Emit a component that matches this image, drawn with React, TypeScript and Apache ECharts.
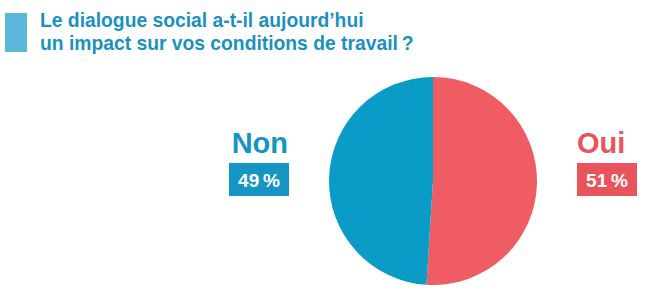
import React, { useEffect, useRef } from "react";
import * as echarts from "echarts";

const categories = ["Oui", "Non"];
const values = [51, 49];
const colors = ["#f05c63", "#0b9bc7"];
const labelColors = ["#e9545c", "#1595c3"];
const titleLines = ["Le dialogue social a-t-il aujourd’hui", "un impact sur vos conditions de travail\u2009?"];

const FONT = "'Liberation Sans', Arial, Helvetica, sans-serif";

export default function App() {
  const ref = useRef<HTMLDivElement>(null);
  useEffect(() => {
    if (!ref.current) return;
    const chart = echarts.init(ref.current, null, { renderer: "svg" });
    // box left positions and text alignment per category
    const boxLefts = [577, 229];
    const nameAligns = ["left", "right"];
    const labelGraphics: any[] = [];
    categories.forEach((c, i) => {
      const bx = boxLefts[i];
      labelGraphics.push({
        type: "text",
        x: nameAligns[i] === "left" ? bx : bx + 59,
        y: 143,
        style: {
          text: c,
          fill: labelColors[i],
          font: `bold 29px ${FONT}`,
          textAlign: nameAligns[i],
          textVerticalAlign: "middle",
        },
        silent: true,
      });
      labelGraphics.push({
        type: "rect",
        shape: { x: bx, y: 163, width: 60, height: 33 },
        style: { fill: labelColors[i] },
        silent: true,
      });
      labelGraphics.push({
        type: "text",
        x: bx + 30,
        y: 180,
        style: {
          text: `${values[i]}\u2009%`,
          fill: "#ffffff",
          font: `bold 19px ${FONT}`,
          textAlign: "center",
          textVerticalAlign: "middle",
        },
        silent: true,
      });
    });
    chart.setOption({
      animation: false,
      backgroundColor: "#ffffff",
      graphic: [
        {
          type: "rect",
          shape: { x: 5, y: 13, width: 22, height: 39 },
          style: { fill: "#5ab7db" },
          silent: true,
        },
        ...titleLines.map((t, i) => ({
          type: "text",
          x: 40,
          y: 10.5 + i * 23.5,
          style: {
            text: t,
            fill: "#1a91c1",
            font: `bold 19.3px ${FONT}`,
            textAlign: "left",
            textVerticalAlign: "top",
          },
          silent: true,
        })),
        ...labelGraphics,
      ],
      series: [
        {
          type: "pie",
          center: [433, 181],
          radius: [0, 104],
          startAngle: 90,
          clockwise: true,
          label: { show: false },
          labelLine: { show: false },
          emphasis: { disabled: true },
          itemStyle: { borderWidth: 0 },
          data: categories.map((c, i) => ({
            name: c,
            value: values[i],
            itemStyle: { color: colors[i] },
          })),
        },
      ],
    });
    return () => chart.dispose();
  }, []);
  return (
    <div
      ref={ref}
      style={{ position: "fixed", left: 0, top: 0, width: 646, height: 292 }}
    />
  );
}
